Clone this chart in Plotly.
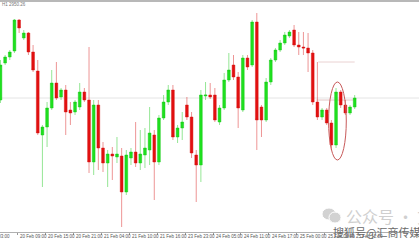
import plotly.graph_objects as go

# OHLC values (hourly bars)
bar_index = list(range(77))
open_ = [2945.00, 2954.25, 2955.75, 2957.25, 2965.00, 2960.50, 2961.75, 2957.00, 2952.25, 2936.25,
         2938.25, 2943.00, 2949.25, 2945.75, 2947.50, 2942.50, 2942.00, 2943.25, 2947.00, 2945.00,
         2929.50, 2943.75, 2933.00, 2929.25, 2931.50, 2930.75, 2931.00, 2922.00, 2930.50, 2932.00,
         2929.25, 2931.25, 2932.50, 2936.25, 2929.50, 2940.50, 2944.50, 2947.50, 2935.75, 2938.00,
         2943.75, 2940.75, 2931.25, 2928.75, 2946.00, 2946.25, 2946.25, 2939.50, 2943.00, 2950.00,
         2953.75, 2950.75, 2942.50, 2955.50, 2953.75, 2964.50, 2943.25, 2940.00, 2949.50, 2955.00,
         2957.50, 2959.25, 2961.00, 2962.50, 2958.75, 2958.25, 2958.00, 2956.75, 2944.50, 2940.75,
         2942.50, 2939.25, 2933.75, 2947.00, 2943.75, 2941.75, 2943.25]
high = [2955.00, 2956.25, 2957.50, 2965.25, 2965.25, 2962.50, 2962.00, 2958.75, 2955.00, 2938.75,
        2944.50, 2952.50, 2954.50, 2948.00, 2948.75, 2944.50, 2945.00, 2949.25, 2948.00, 2958.25,
        2945.00, 2945.00, 2934.50, 2932.50, 2933.25, 2935.75, 2933.00, 2932.50, 2933.00, 2939.50,
        2937.50, 2938.00, 2943.25, 2937.50, 2941.25, 2946.25, 2948.75, 2948.75, 2938.75, 2942.00,
        2945.75, 2942.00, 2932.50, 2947.50, 2949.50, 2949.25, 2948.00, 2943.75, 2951.75, 2956.75,
        2956.25, 2952.00, 2956.25, 2956.25, 2965.00, 2966.75, 2943.75, 2950.50, 2955.50, 2958.00,
        2960.00, 2962.00, 2962.50, 2963.75, 2962.00, 2962.00, 2961.75, 2957.50, 2954.50, 2943.00,
        2943.00, 2940.00, 2948.00, 2947.50, 2945.00, 2943.75, 2946.25]
low = [2944.25, 2953.75, 2955.00, 2956.75, 2961.75, 2960.00, 2956.25, 2952.00, 2936.25, 2923.25,
       2933.25, 2942.50, 2945.00, 2945.00, 2936.25, 2938.75, 2941.25, 2942.50, 2944.50, 2926.75,
       2926.25, 2927.50, 2927.00, 2923.25, 2925.00, 2929.25, 2913.25, 2921.25, 2928.75, 2928.25,
       2927.50, 2928.00, 2928.75, 2920.00, 2928.75, 2940.00, 2943.75, 2935.00, 2934.25, 2935.00,
       2940.00, 2930.50, 2919.50, 2924.50, 2945.00, 2945.25, 2939.50, 2938.75, 2942.50, 2949.50,
       2950.00, 2938.00, 2942.00, 2952.50, 2953.25, 2932.50, 2935.75, 2939.50, 2948.75, 2954.50,
       2957.00, 2958.75, 2960.50, 2958.25, 2956.25, 2956.25, 2952.00, 2943.75, 2940.00, 2940.00,
       2938.75, 2932.50, 2933.00, 2943.00, 2941.25, 2941.25, 2942.75]
close = [2953.75, 2955.75, 2957.00, 2965.00, 2963.00, 2961.75, 2957.00, 2952.50, 2936.75, 2938.25,
         2943.00, 2949.25, 2945.50, 2947.50, 2942.00, 2941.75, 2944.50, 2947.00, 2945.00, 2929.50,
         2943.75, 2933.00, 2929.25, 2931.50, 2931.00, 2931.50, 2922.00, 2931.25, 2932.00, 2929.25,
         2931.50, 2933.00, 2936.75, 2929.50, 2940.50, 2944.50, 2947.50, 2935.75, 2938.00, 2939.50,
         2940.75, 2931.75, 2928.75, 2946.25, 2946.25, 2945.75, 2940.00, 2943.00, 2950.00, 2952.50,
         2950.75, 2943.00, 2955.50, 2953.25, 2964.50, 2940.00, 2940.00, 2949.50, 2955.00, 2957.50,
         2959.25, 2961.25, 2962.00, 2958.75, 2958.25, 2958.00, 2956.75, 2944.50, 2940.75, 2942.50,
         2939.25, 2933.75, 2947.00, 2943.75, 2941.75, 2943.25, 2945.50]

tick_positions = [3.6, 9.6, 15.6, 21.6, 27.6, 33.6, 39.6, 45.6, 51.6, 57.6, 63.6, 69.6, 75.6]
tick_labels = ["20 Feb 09:00", "20 Feb 15:00", "20 Feb 21:00", "21 Feb 04:00", "21 Feb 10:00",
               "21 Feb 16:00", "23 Feb 23:00", "24 Feb 05:00", "24 Feb 11:00", "24 Feb 17:00",
               "25 Feb 00:00", "25 Feb 06:00", "25 Feb 12:00"]
first_label = "20 Feb 03:00"
header_text = "H1 2950.26"
level_main = 2945.5
level_short_hi = 2954.5
level_short_lo = 2945.0

W, H = 419, 240
ML, MR, MT, MB = 0, 0, 1, 8
PH = H - MT - MB

def px_x(p):
    return p / W

def px_y(p):
    return (H - MB - p) / PH

fig = go.Figure()
fig.add_trace(go.Candlestick(
    x=bar_index, open=open_, high=high, low=low, close=close,
    increasing=dict(fillcolor="#1fe01f", line=dict(color="rgba(20,200,20,0.45)", width=1)),
    decreasing=dict(fillcolor="#e21010", line=dict(color="rgba(215,20,20,0.45)", width=1)),
    whiskerwidth=0, showlegend=False, hoverinfo="skip",
))

shapes = [
    dict(type="line", xref="paper", yref="y", x0=0, x1=1, y0=level_main, y1=level_main,
         line=dict(color="#e4e4e4", width=1), layer="below"),
    dict(type="line", xref="x", yref="y", x0=68.2, x1=76.0, y0=level_short_hi, y1=level_short_hi,
         line=dict(color="#ead2d2", width=1), layer="below"),
    dict(type="line", xref="x", yref="y", x0=67.8, x1=76.0, y0=level_short_lo, y1=level_short_lo,
         line=dict(color="#e2c6c6", width=1), layer="below"),
    dict(type="line", xref="paper", yref="paper", x0=0, x1=1, y0=1.0, y1=1.0,
         line=dict(color="#b8b8b8", width=2)),
    dict(type="circle", xref="x", yref="y", x0=70.4, x1=74.2, y0=2930.0, y1=2949.5,
         line=dict(color="#c85a5a", width=1)),
    # wechat-like icon
    dict(type="circle", xref="paper", yref="paper", x0=px_x(322), x1=px_x(336),
         y0=px_y(220), y1=px_y(208), fillcolor="#d2d2d2", line=dict(color="white", width=1)),
    dict(type="circle", xref="paper", yref="paper", x0=px_x(329), x1=px_x(341),
         y0=px_y(223), y1=px_y(212), fillcolor="#d2d2d2", line=dict(color="white", width=1)),
]

tick_font = dict(size=4.5, color="#555", family="Liberation Sans")
annotations = [
    dict(text=header_text, xref="paper", yref="paper", x=0, y=px_y(4), xanchor="left",
         yanchor="middle", showarrow=False, font=dict(size=4.5, color="#777", family="Liberation Sans")),
    dict(text=first_label, xref="paper", yref="paper", x=px_x(12), y=px_y(236), xanchor="right",
         yanchor="middle", showarrow=False, font=tick_font),
]
for tv, tt in zip(tick_positions, tick_labels):
    annotations.append(dict(text=tt, xref="x", yref="paper", x=tv, y=px_y(236), xanchor="left",
                            yanchor="middle", xshift=1, showarrow=False, font=tick_font))
annotations += [
    dict(text="公众号 · 文", xref="paper", yref="paper", x=px_x(344), y=px_y(216), xanchor="left",
         yanchor="middle", showarrow=False,
         font=dict(size=16, color="#cfcfcf", family="Noto Sans CJK SC")),
    dict(text="搜狐号@汇商传媒", xref="paper", yref="paper", x=px_x(331), y=px_y(231.5), xanchor="left",
         yanchor="middle", showarrow=False,
         font=dict(size=11, color="#6a6a6a", family="Noto Sans CJK SC")),
]

fig.update_layout(
    width=W, height=H, margin=dict(l=ML, r=MR, t=MT, b=MB, pad=0),
    paper_bgcolor="white", plot_bgcolor="white", boxgap=0.15,
    shapes=shapes, annotations=annotations, showlegend=False,
    xaxis=dict(range=[-0.1, 89.8], showgrid=False, zeroline=False, showline=True,
               linecolor="#b0b0b0", linewidth=1, ticks="outside", ticklen=2, tickcolor="#999",
               tickvals=tick_positions, showticklabels=False,
               rangeslider=dict(visible=False), automargin=False, fixedrange=True),
    yaxis=dict(range=[2912.0, 2969.75], showgrid=False, zeroline=False, showticklabels=False,
               automargin=False, fixedrange=True),
)

fig.write_html("out.html", config={"displayModeBar": False})
